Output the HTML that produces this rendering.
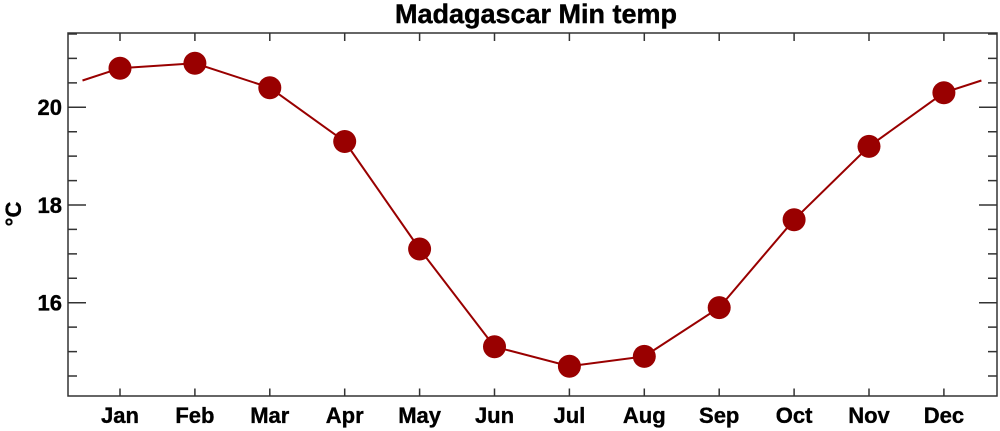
<!DOCTYPE html>
<html>
<head>
<meta charset="utf-8">
<style>
html,body{margin:0;padding:0;background:#fff;}
svg{display:block;}
text{font-family:"Liberation Sans",Arial,sans-serif;font-weight:bold;fill:#000;}
</style>
</head>
<body>
<svg width="1000" height="431" viewBox="0 0 1000 431" xmlns="http://www.w3.org/2000/svg">
<text x="536" y="23" font-size="27" text-anchor="middle" stroke="#000" stroke-width="0.4">Madagascar Min temp</text>

<!-- ticks -->
<g stroke="#333" stroke-width="1.5" fill="none">
<path d="M68 302.7H86 M68 205H86 M68 107.3H86"/>
<path d="M997 302.7H979 M997 205H979 M997 107.3H979"/>
<path d="M68 376H77 M68 351.6H77 M68 327.1H77 M68 278.3H77 M68 253.9H77 M68 229.4H77 M68 180.6H77 M68 156.1H77 M68 131.7H77 M68 82.9H77 M68 58.4H77 M68 34H77"/>
<path d="M997 376H988 M997 351.6H988 M997 327.1H988 M997 278.3H988 M997 253.9H988 M997 229.4H988 M997 180.6H988 M997 156.1H988 M997 131.7H988 M997 82.9H988 M997 58.4H988 M997 34H988"/>
<path d="M120 396V388.5 M194.9 396V388.5 M269.8 396V388.5 M344.7 396V388.5 M419.6 396V388.5 M494.5 396V388.5 M569.4 396V388.5 M644.3 396V388.5 M719.2 396V388.5 M794.1 396V388.5 M869 396V388.5 M943.9 396V388.5"/>
<path d="M120 33V41 M194.9 33V41 M269.8 33V41 M344.7 33V41 M419.6 33V41 M494.5 33V41 M569.4 33V41 M644.3 33V41 M719.2 33V41 M794.1 33V41 M869 33V41 M943.9 33V41"/>
<rect x="68" y="33" width="929" height="363"/>
</g>

<!-- y labels -->
<g font-size="22" text-anchor="end" stroke="#000" stroke-width="0.35">
<text x="62" y="115">20</text>
<text x="62" y="213">18</text>
<text x="62" y="310.5">16</text>
</g>
<text transform="translate(21,214) rotate(-90)" font-size="22" text-anchor="middle" stroke="#000" stroke-width="0.35">°C</text>

<!-- x labels -->
<g font-size="22" text-anchor="middle" stroke="#000" stroke-width="0.35">
<text x="120" y="423">Jan</text>
<text x="194.9" y="423">Feb</text>
<text x="269.8" y="423">Mar</text>
<text x="344.7" y="423">Apr</text>
<text x="419.6" y="423">May</text>
<text x="494.5" y="423">Jun</text>
<text x="569.4" y="423">Jul</text>
<text x="644.3" y="423">Aug</text>
<text x="719.2" y="423">Sep</text>
<text x="794.1" y="423">Oct</text>
<text x="869" y="423">Nov</text>
<text x="943.9" y="423">Dec</text>
</g>

<!-- series -->
<polyline fill="none" stroke="#990000" stroke-width="2" points="82.5,80.5 120,68.2 194.9,63.3 269.8,87.7 344.7,141.5 419.6,249 494.5,346.7 569.4,366.2 644.3,356.4 719.2,307.6 794.1,219.7 869,146.4 943.9,92.7 981.4,80.5"/>
<g fill="#990000">
<circle cx="120" cy="68.2" r="11.5"/>
<circle cx="194.9" cy="63.3" r="11.5"/>
<circle cx="269.8" cy="87.7" r="11.5"/>
<circle cx="344.7" cy="141.5" r="11.5"/>
<circle cx="419.6" cy="249" r="11.5"/>
<circle cx="494.5" cy="346.7" r="11.5"/>
<circle cx="569.4" cy="366.2" r="11.5"/>
<circle cx="644.3" cy="356.4" r="11.5"/>
<circle cx="719.2" cy="307.6" r="11.5"/>
<circle cx="794.1" cy="219.7" r="11.5"/>
<circle cx="869" cy="146.4" r="11.5"/>
<circle cx="943.9" cy="92.7" r="11.5"/>
</g>
</svg>
</body>
</html>
